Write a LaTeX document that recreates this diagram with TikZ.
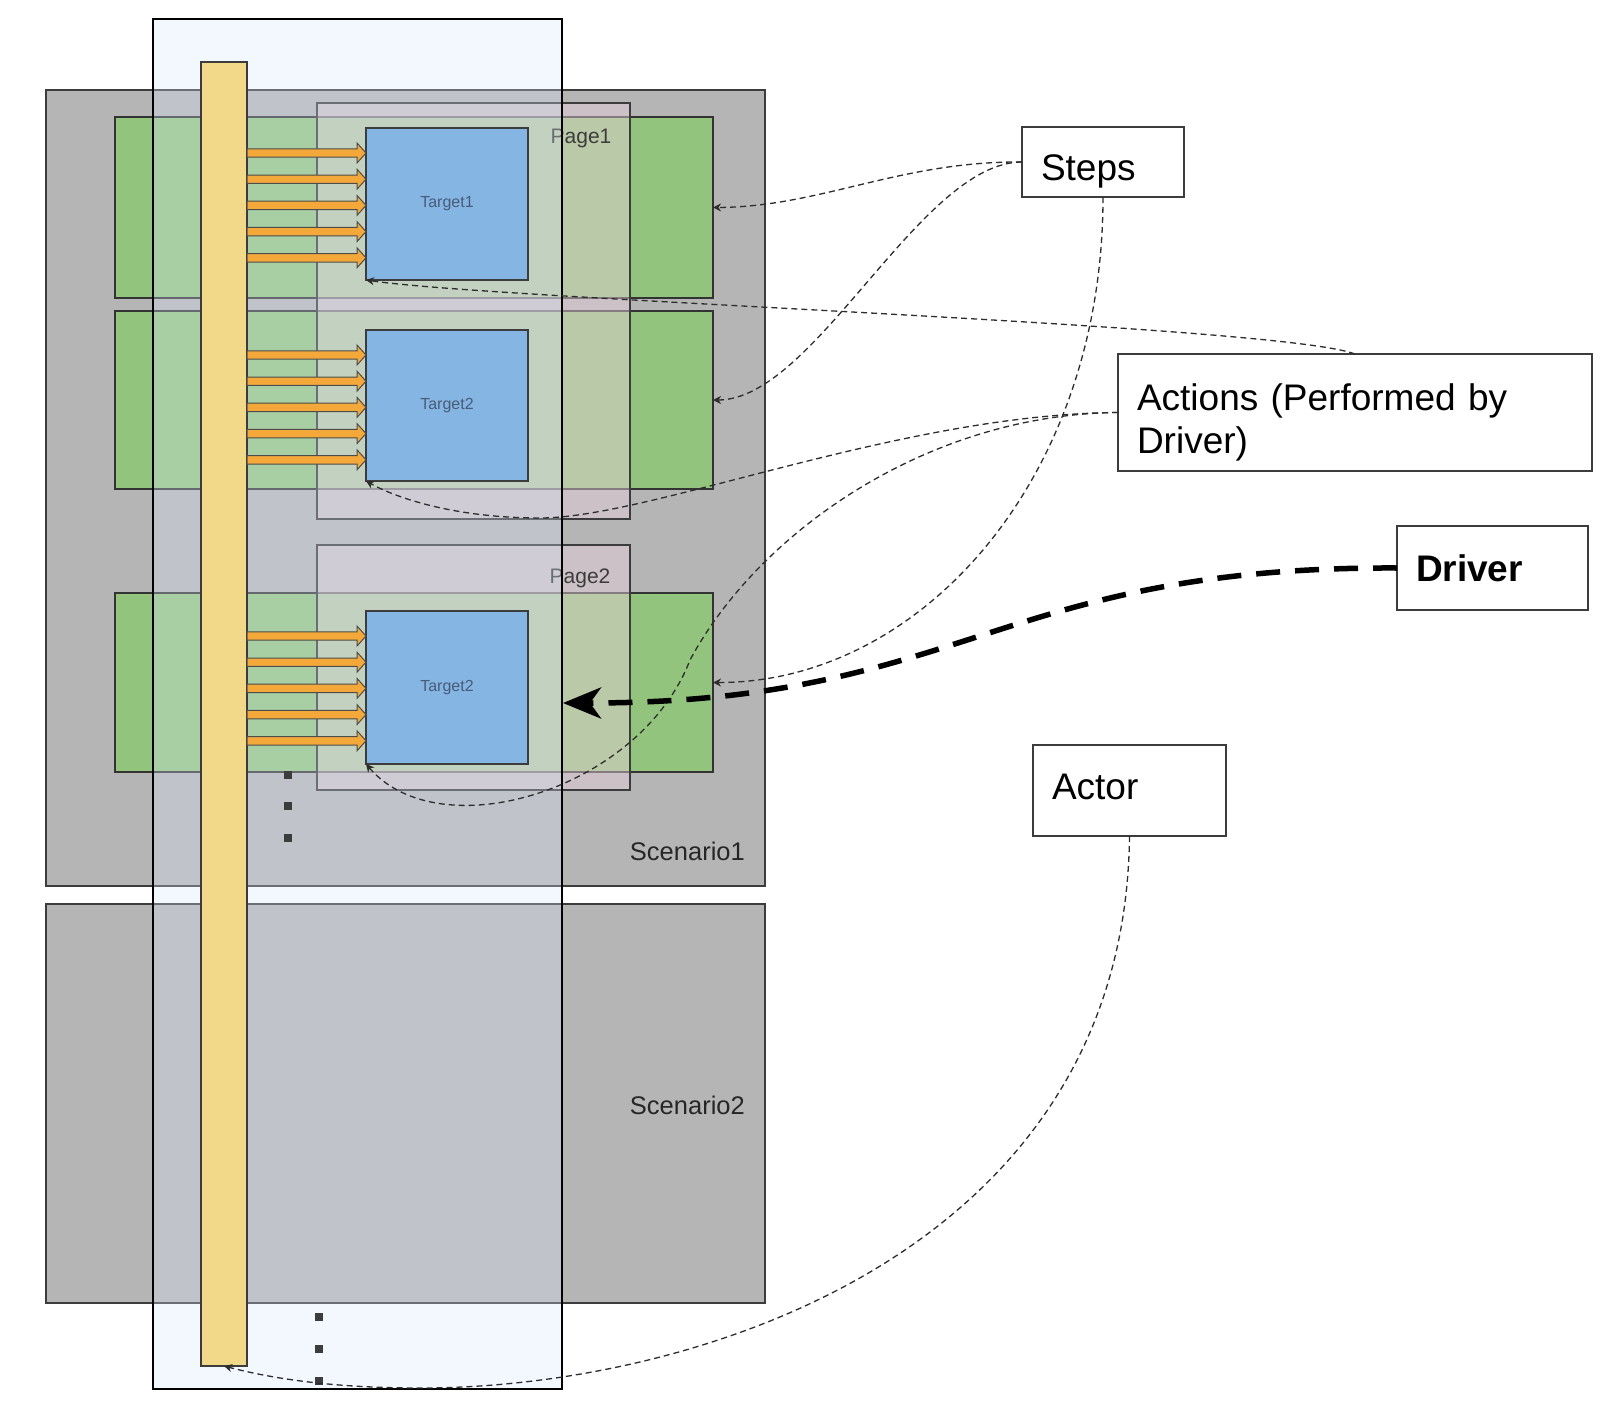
\documentclass[tikz,border=0pt]{standalone}
\usepackage{fontspec}
\setmainfont{Liberation Sans}
\usetikzlibrary{arrows.meta}

\definecolor{scengray}{RGB}{181,181,181}
\definecolor{rowgreen}{RGB}{147,196,125}
\definecolor{pagepink}{RGB}{234,209,220}
\definecolor{runblue}{RGB}{218,232,252}
\definecolor{baryellow}{RGB}{242,217,138}
\definecolor{targetblue}{RGB}{133,181,226}
\definecolor{flowfill}{RGB}{244,168,58}
\definecolor{edgegray}{RGB}{60,60,60}
\definecolor{linegray}{RGB}{45,45,45}
\definecolor{targettext}{RGB}{72,92,122}

\tikzset{
  shapebox/.style={draw=edgegray, line width=1.4pt, inner sep=0pt, outer sep=0pt},
  scenario/.style={shapebox, fill=scengray, minimum width=719pt, minimum height=#1},
  steprow/.style={shapebox, draw=black!80, fill=rowgreen, minimum width=598pt, minimum height=#1},
  pagebox/.style={shapebox, fill=pagepink, fill opacity=0.45, minimum width=313pt, minimum height=#1},
  runbox/.style={shapebox, draw=black, fill=runblue, fill opacity=0.3, minimum width=409pt, minimum height=1370pt},
  targetbox/.style={shapebox, fill=targetblue, minimum width=162pt, minimum height=#1, text=targettext, font=\fontsize{16}{19}\selectfont},
  labelbox/.style={draw=edgegray, line width=1.5pt, fill=white, anchor=north west, inner xsep=19pt, inner ysep=0pt, outer sep=0pt, align=left, text width=#1, text depth=0pt, font=\fontsize{37}{43}\selectfont},
  smalllabel/.style={inner sep=0pt, anchor=base, text=edgegray, font=\fontsize{21}{25}\selectfont},
  scenlabel/.style={inner sep=0pt, anchor=base east, text=black!85, font=\fontsize{25.5}{30}\selectfont},
  stepline/.style={draw=linegray, line width=1.3pt, dash pattern=on 6pt off 4pt, -{Stealth[length=8pt,width=8pt,inset=2.5pt]}},
  driverline/.style={draw=black, line width=5.5pt, dash pattern=on 24pt off 15pt, -{Stealth[length=38pt,width=31pt,inset=11pt]}},
  flowarrow/.style={fill=flowfill, draw=black!70, line width=1pt, line join=miter},
  gapdot/.style={fill=edgegray}
}

\begin{document}
\begin{tikzpicture}[x=1pt,y=-1pt]
  \fill[white] (0,0) rectangle (1612,1424);
  \useasboundingbox (0,0) rectangle (1612,1424);

  % scenarios
  \node[scenario=796pt] (scen1) at (405.5,488) {};
  \node[scenario=399pt] (scen2) at (405.5,1103.5) {};

  % steps (green rows)
  \node[steprow=181pt] (row1) at (414,207.5) {};
  \node[steprow=178pt] (row2) at (414,400) {};
  \node[steprow=179pt] (row3) at (414,682.5) {};

  % pages
  \node[pagebox=416pt] (page1) at (473.5,311) {};
  \node[pagebox=245pt] (page2) at (473.5,667.5) {};
  \node[smalllabel] (page1lbl) at (581,143) {Page1};
  \node[smalllabel] (page2lbl) at (580,583) {Page2};

  % run column and driver bar
  \node[runbox] (run) at (357.5,704) {};
  \node[shapebox, fill=baryellow, minimum width=46pt, minimum height=1304pt] (bar) at (224,714) {};

  % targets
  \node[targetbox=152pt] (target1) at (447,204) {Target1};
  \node[targetbox=151pt] (target2) at (447,405.5) {Target2};
  \node[targetbox=153pt] (target3) at (447,687.5) {Target2};

  % actions from the bar onto the targets
  \foreach \tg/\t in {target1/128,target2/330,target3/611}
  {
    \foreach \i in {0,...,4}
    {
      \pgfmathsetmacro\ay{\t+25+26.2*\i}
      \pgfmathsetmacro\ya{\ay-4.2}
      \pgfmathsetmacro\yb{\ay+4.2}
      \pgfmathsetmacro\yc{\ay-10}
      \pgfmathsetmacro\yd{\ay+10}
      \draw[flowarrow] (bar.east |- 0,\ya) -- ([xshift=-9pt]\tg.west |- 0,\ya)
        -- ([xshift=-9pt]\tg.west |- 0,\yc) -- (\tg.west |- 0,\ay)
        -- ([xshift=-9pt]\tg.west |- 0,\yd) -- ([xshift=-9pt]\tg.west |- 0,\yb)
        -- (bar.east |- 0,\yb) -- cycle;
    }
  }

  % more steps / scenarios follow
  \foreach \dx/\dy in {288/775,288/806,288/838,319/1317,319/1349,319/1381}
  {
    \fill[gapdot] (\dx-3.6,\dy-3.6) rectangle (\dx+3.6,\dy+3.6);
  }

  \node[scenlabel] (scen1lbl) at (745,860) {Scenario1};
  \node[scenlabel] (scen2lbl) at (745,1114) {Scenario2};

  % legend boxes
  \node[labelbox=124pt, minimum height=70pt, text height=36pt] (steps) at (1022,127) {Steps};
  \node[labelbox=436pt, minimum height=117pt, text height=27pt, text depth=32pt] (actions) at (1118,354) {Actions (Performed by\\Driver)};
  \node[labelbox=153pt, minimum height=84pt, text height=27pt, font=\fontsize{37}{43}\selectfont\bfseries] (driver) at (1397,526) {Driver};
  \node[labelbox=155pt, minimum height=91pt, text height=17pt] (actor) at (1033,745) {Actor};
  \coordinate (drivertip) at (563,703);

  % connectors
  \draw[stepline] (steps.west) .. controls (900,161) and (820,207) .. (row1.east);
  \draw[stepline] (steps.west) .. controls (920,162) and (815,400) .. (row2.east);
  \draw[stepline] (steps.south) .. controls (1103,480) and (920,683) .. (row3.east);
  \draw[stepline] (actions.north) .. controls (1280,325) and (500,300) .. (target1.south west);
  \draw[stepline] (actions.west) .. controls (900,414) and (650,518) .. (540,518)
    .. controls (460,518) and (400,500) .. (target2.south west);
  \draw[stepline] (actions.west) .. controls (930,414) and (760,530) .. (690,660)
    .. controls (640,790) and (440,850) .. (target3.south west);
  \draw[driverline] (driver.west) .. controls (999,566) and (962,703) .. (drivertip);
  \draw[stepline] (actor.south) .. controls (1125,1250) and (700,1388) .. (420,1388)
    .. controls (330,1388) and (270,1378) .. (bar.south);
\end{tikzpicture}
\end{document}
